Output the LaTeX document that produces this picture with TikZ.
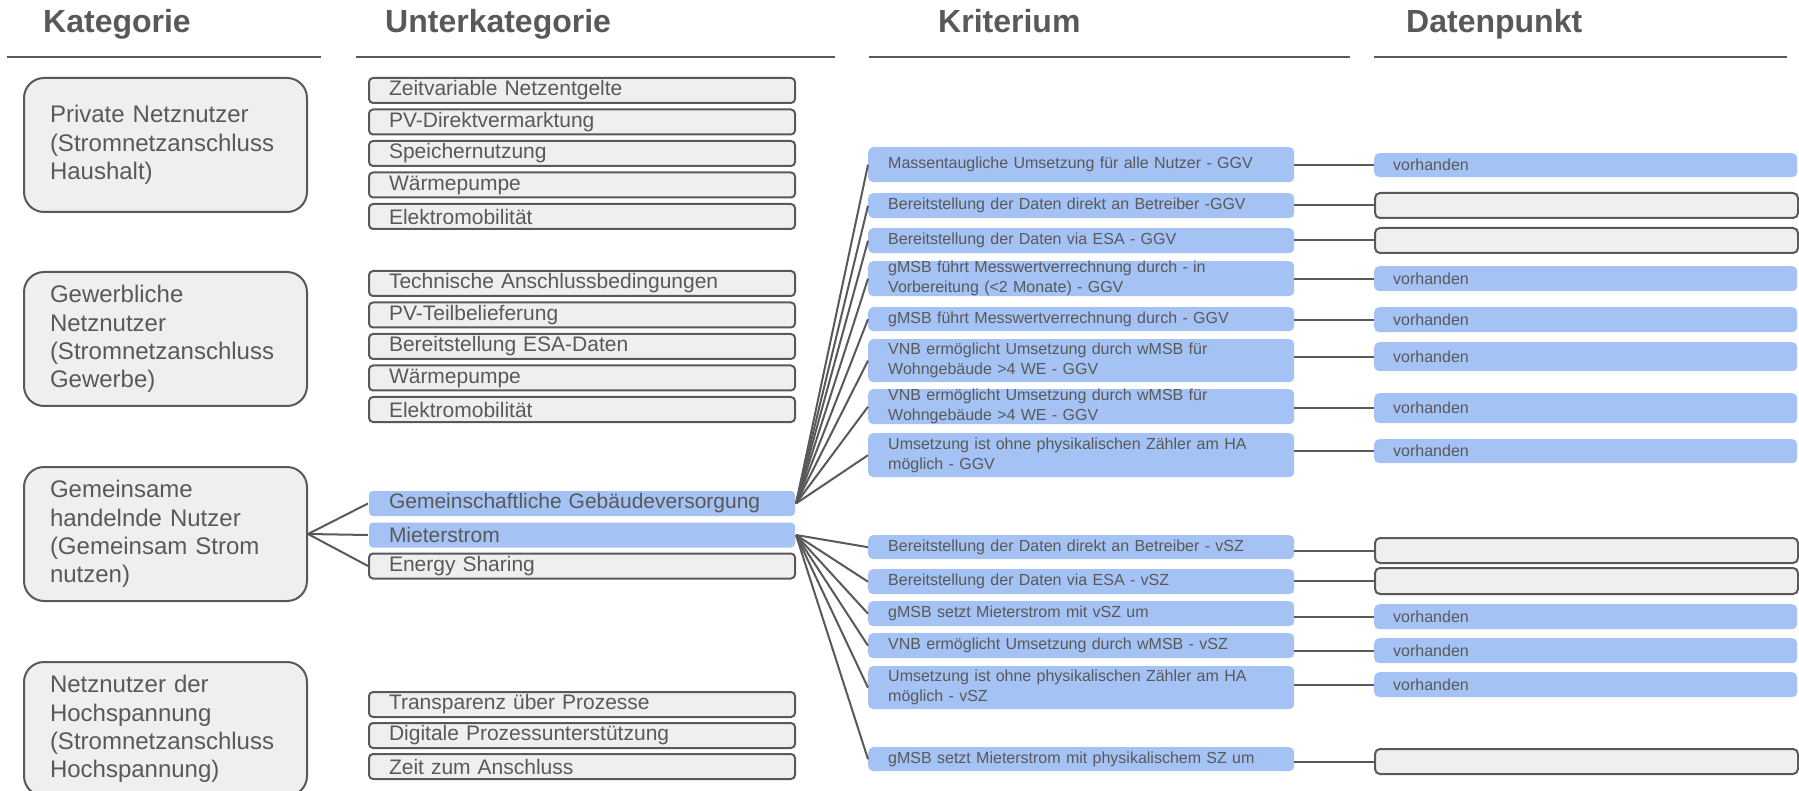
\documentclass[tikz,border=0pt]{standalone}
\usepackage{fontspec}
\setmainfont{Liberation Sans}
\definecolor{grau}{HTML}{595959}
\definecolor{hellgrau}{HTML}{EFEFEF}
\definecolor{hellblau}{HTML}{A4C2F4}

\tikzset{
    kopf/.style={anchor=base west, inner sep=0pt, text=grau, font=\fontsize{32pt}{38pt}\selectfont\bfseries},
    kopflinie/.style={draw=grau, line width=2pt},
    kat/.style={anchor=north west, draw=grau, line width=2pt, fill=hellgrau, rounded corners=20pt,
        minimum width=283pt, minimum height=134pt, text width=231pt, inner xsep=26pt, inner ysep=0pt,
        align=left, text=grau, font=\fontsize{24pt}{28.3pt}\selectfont},
    unter/.style={anchor=north west, draw=grau, line width=2pt, fill=hellgrau, rounded corners=4pt,
        minimum width=426pt, minimum height=25pt, text width=386pt, inner xsep=20pt, inner ysep=0pt,
        align=left, text=grau, font=\fontsize{21pt}{25pt}\selectfont},
    unterwahl/.style={unter, draw=none, fill=hellblau},
    krit/.style={anchor=north west, fill=hellblau, rounded corners=5pt,
        minimum width=426pt, text width=386pt, inner xsep=20pt, inner ysep=0pt,
        align=left, text=grau, font=\fontsize{16pt}{20pt}\selectfont},
    da/.style={anchor=north west, fill=hellblau, rounded corners=5pt,
        minimum width=423pt, text width=385pt, inner xsep=19pt, inner ysep=0pt,
        align=left, text=grau, font=\fontsize{16pt}{20pt}\selectfont},
    leer/.style={da, draw=grau, line width=2pt, fill=hellgrau},
    verbinder/.style={draw=grau, line width=2pt},
}

\begin{document}
\begin{tikzpicture}[x=1pt, y=-1pt]
    \useasboundingbox (0,0) rectangle (1799,791);

    \node[kopf] (h1) at (43,33)   {Kategorie};
    \node[kopf] (h2) at (385,33)  {Unterkategorie};
    \node[kopf] (h3) at (938,33)  {Kriterium};
    \node[kopf] (h4) at (1406,33) {Datenpunkt};
    \draw[kopflinie] (7,57)    -- (321,57);
    \draw[kopflinie] (356,57)  -- (835,57);
    \draw[kopflinie] (869,57)  -- (1350,57);
    \draw[kopflinie] (1374,57) -- (1787,57);

    \node[kat] (k1) at (23,77)  {Private Netznutzer\\(Stromnetzanschluss\\Haushalt)};
    \node[kat] (k2) at (23,271) {Gewerbliche\\Netznutzer\\(Stromnetzanschluss\\Gewerbe)};
    \node[kat] (k3) at (23,466) {Gemeinsame\\handelnde Nutzer\\(Gemeinsam Strom\\nutzen)};
    \node[kat] (k4) at (23,661) {Netznutzer der\\Hochspannung\\(Stromnetzanschluss\\Hochspannung)};

    \node[unter] (u11) at (368,77)    {Zeitvariable Netzentgelte};
    \node[unter] (u12) at (368,108.5) {PV-Direktvermarktung};
    \node[unter] (u13) at (368,140)   {Speichernutzung};
    \node[unter] (u14) at (368,171.5) {Wärmepumpe};
    \node[unter] (u15) at (368,203)   {Elektromobilität};

    \node[unter] (u21) at (368,270)   {Technische Anschlussbedingungen};
    \node[unter] (u22) at (368,301.5) {PV-Teilbelieferung};
    \node[unter] (u23) at (368,333)   {Bereitstellung ESA-Daten};
    \node[unter] (u24) at (368,364.5) {Wärmepumpe};
    \node[unter] (u25) at (368,396)   {Elektromobilität};

    \node[unterwahl] (ggv) at (368,490)   {Gemeinschaftliche Gebäudeversorgung};
    \node[unterwahl] (ms)  at (368,521.5) {Mieterstrom};
    \node[unter]     (es)  at (368,552.5) {Energy Sharing};

    \node[unter] (u41) at (368,691) {Transparenz über Prozesse};
    \node[unter] (u42) at (368,722) {Digitale Prozessunterstützung};
    \node[unter] (u43) at (368,753) {Zeit zum Anschluss};

    \node[krit, minimum height=35pt] (c1)  at (868,147) {Massentaugliche Umsetzung für alle Nutzer - GGV};
    \node[krit, minimum height=25pt] (c2)  at (868,193) {Bereitstellung der Daten direkt an Betreiber -GGV};
    \node[krit, minimum height=25pt] (c3)  at (868,228) {Bereitstellung der Daten via ESA - GGV};
    \node[krit, minimum height=34pt] (c4)  at (868,261) {gMSB führt Messwertverrechnung durch - in\\Vorbereitung (<2 Monate) - GGV};
    \node[krit, minimum height=24pt] (c5)  at (868,307) {gMSB führt Messwertverrechnung durch - GGV};
    \node[krit, minimum height=43pt] (c6)  at (868,339) {VNB ermöglicht Umsetzung durch wMSB für\\Wohngebäude >4 WE - GGV};
    \node[krit, minimum height=35pt] (c7)  at (868,389) {VNB ermöglicht Umsetzung durch wMSB für\\Wohngebäude >4 WE - GGV};
    \node[krit, minimum height=44pt] (c8)  at (868,433) {Umsetzung ist ohne physikalischen Zähler am HA\\möglich - GGV};
    \node[krit, minimum height=24pt] (c9)  at (868,535) {Bereitstellung der Daten direkt an Betreiber - vSZ};
    \node[krit, minimum height=25pt] (c10) at (868,569) {Bereitstellung der Daten via ESA - vSZ};
    \node[krit, minimum height=25pt] (c11) at (868,601) {gMSB setzt Mieterstrom mit vSZ um};
    \node[krit, minimum height=25pt] (c12) at (868,633) {VNB ermöglicht Umsetzung durch wMSB - vSZ};
    \node[krit, minimum height=43pt] (c13) at (868,666) {Umsetzung ist ohne physikalischen Zähler am HA\\möglich - vSZ};
    \node[krit, minimum height=24pt] (c14) at (868,747) {gMSB setzt Mieterstrom mit physikalischem SZ um};

    \node[da,   minimum height=24pt] (d1)  at (1374,153) {vorhanden};
    \node[leer, minimum height=25pt] (d2)  at (1374,192) {};
    \node[leer, minimum height=25pt] (d3)  at (1374,227) {};
    \node[da,   minimum height=25pt] (d4)  at (1374,266) {vorhanden};
    \node[da,   minimum height=25pt] (d5)  at (1374,307) {vorhanden};
    \node[da,   minimum height=29pt] (d6)  at (1374,342) {vorhanden};
    \node[da,   minimum height=30pt] (d7)  at (1374,393) {vorhanden};
    \node[da,   minimum height=24pt] (d8)  at (1374,439) {vorhanden};
    \node[leer, minimum height=25pt] (d9)  at (1374,537) {};
    \node[leer, minimum height=26pt] (d10) at (1374,567) {};
    \node[da,   minimum height=25pt] (d11) at (1374,604) {vorhanden};
    \node[da,   minimum height=25pt] (d12) at (1374,638) {vorhanden};
    \node[da,   minimum height=25pt] (d13) at (1374,672) {vorhanden};
    \node[leer, minimum height=25pt] (d14) at (1374,748) {};

    \draw[verbinder] (k3.east) -- (ggv.west);
    \draw[verbinder] (k3.east) -- (ms.west);
    \draw[verbinder] (k3.east) -- (es.west);

    \draw[verbinder] (ggv.east) -- (c1.west);
    \draw[verbinder] (ggv.east) -- (c2.west);
    \draw[verbinder] (ggv.east) -- (c3.west);
    \draw[verbinder] (ggv.east) -- (c4.west);
    \draw[verbinder] (ggv.east) -- (c5.west);
    \draw[verbinder] (ggv.east) -- (c6.west);
    \draw[verbinder] (ggv.east) -- (c7.west);
    \draw[verbinder] (ggv.east) -- (c8.west);

    \draw[verbinder] (ms.east) -- (c9.west);
    \draw[verbinder] (ms.east) -- (c10.west);
    \draw[verbinder] (ms.east) -- (c11.west);
    \draw[verbinder] (ms.east) -- (c12.west);
    \draw[verbinder] (ms.east) -- (c13.west);
    \draw[verbinder] (ms.east) -- (c14.west);

    \draw[verbinder] (c1.east |- d1.west)   -- (d1.west);
    \draw[verbinder] (c2.east |- d2.west)   -- (d2.west);
    \draw[verbinder] (c3.east |- d3.west)   -- (d3.west);
    \draw[verbinder] (c4.east |- d4.west)   -- (d4.west);
    \draw[verbinder] (c5.east |- d5.west)   -- (d5.west);
    \draw[verbinder] (c6.east |- d6.west)   -- (d6.west);
    \draw[verbinder] (c7.east |- d7.west)   -- (d7.west);
    \draw[verbinder] (c8.east |- d8.west)   -- (d8.west);
    \draw[verbinder] (c9.east |- d9.west)   -- (d9.west);
    \draw[verbinder] (c10.east |- d10.west) -- (d10.west);
    \draw[verbinder] (c11.east |- d11.west) -- (d11.west);
    \draw[verbinder] (c12.east |- d12.west) -- (d12.west);
    \draw[verbinder] (c13.east |- d13.west) -- (d13.west);
    \draw[verbinder] (c14.east |- d14.west) -- (d14.west);
\end{tikzpicture}
\end{document}
